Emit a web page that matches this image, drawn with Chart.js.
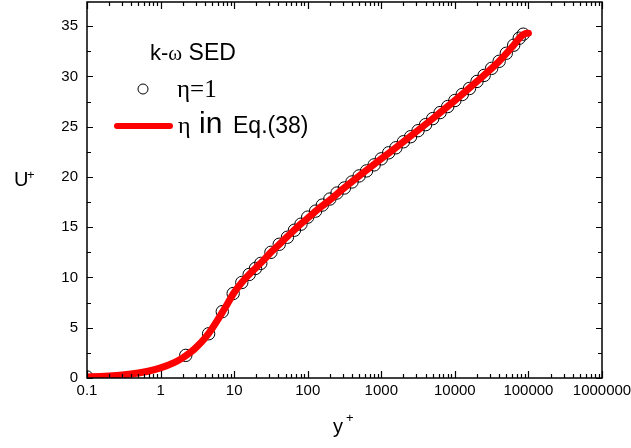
<!DOCTYPE html>
<html><head><meta charset="utf-8">
<script src="https://cdn.jsdelivr.net/npm/chart.js@4"></script>
<style>html,body{margin:0;padding:0;background:#fff}#wrap{width:631px;height:448px}</style>
</head><body><div id="wrap"><canvas id="c" width="631" height="448"></canvas></div>
<script>
// ---- data ----
const xTickValues = [0.1, 1, 10, 100, 1000, 10000, 100000, 1000000];
const xTickLabels = ['0.1', '1', '10', '100', '1000', '10000', '100000', '1000000'];
const yTickValues = [0, 5, 10, 15, 20, 25, 30, 35];
const yMinorTicks = [2.5, 7.5, 12.5, 17.5, 22.5, 27.5, 32.5];
const xMinorMultipliers = [2, 3, 4, 5, 6, 7, 8, 9];

// eta = 1 (open circles)
const etaOneX = [0.1, 2.2, 4.5, 6.9, 9.7, 12.7, 16, 19.5, 23, 31.6, 41, 53, 66, 81, 100, 128, 158, 200, 250, 315, 400, 500, 630, 800, 1000, 1260, 1580, 2000, 2500, 3160, 4000, 5000, 6300, 8000, 10000, 12600, 15800, 20000, 25000, 31600, 40000, 50000, 63000, 75000, 85000];
const etaOneU = [0.1, 2.25, 4.4, 6.6, 8.4, 9.5, 10.3, 10.9, 11.4, 12.5, 13.3, 14.0, 14.7, 15.3, 16.0, 16.6, 17.2, 17.8, 18.4, 18.9, 19.5, 20.1, 20.6, 21.2, 21.8, 22.4, 22.9, 23.5, 24.0, 24.6, 25.2, 25.8, 26.4, 27.0, 27.6, 28.2, 28.8, 29.5, 30.1, 30.8, 31.5, 32.3, 33.1, 33.8, 34.2];

// eta in Eq.(38) (red line)
const eqX = [0.1, 0.15, 0.2, 0.3, 0.5, 0.7, 1, 1.5, 2, 2.5, 3, 4, 5, 6, 7, 8, 10, 12.7, 16, 20, 25, 31.6, 40, 50, 63, 80, 100, 150, 200, 300, 500, 1000, 2000, 5000, 10000, 20000, 40000, 63000, 80000, 90000, 100000];
const eqU = [0.1, 0.15, 0.2, 0.3, 0.5, 0.7, 1.0, 1.5, 2.0, 2.5, 3.0, 3.95, 4.9, 5.8, 6.6, 7.3, 8.5, 9.5, 10.3, 11.0, 11.7, 12.5, 13.2, 13.9, 14.6, 15.3, 15.9, 17.0, 17.7, 18.8, 20.1, 21.8, 23.5, 25.8, 27.6, 29.5, 31.5, 33.1, 34.0, 34.25, 34.3];

const SANS = '"Liberation Sans", Arial, sans-serif';
const SERIF = '"Liberation Serif", "Times New Roman", serif';

const framePlugin = {
  id: 'frame',
  afterDatasetsDraw(chart) {
    const ctx = chart.ctx, a = chart.chartArea;
    const xs = chart.scales.x, ys = chart.scales.y;
    ctx.save();
    ctx.strokeStyle = '#000';
    ctx.lineWidth = 1.5;
    ctx.strokeRect(a.left, a.top, a.right - a.left, a.bottom - a.top);
    ctx.lineWidth = 1.2;
    ctx.beginPath();
    yTickValues.forEach(v => {
      const p = Math.round(ys.getPixelForValue(v)) + 0.5;
      ctx.moveTo(a.left, p); ctx.lineTo(a.left + 6, p);
      ctx.moveTo(a.right, p); ctx.lineTo(a.right - 6, p);
    });
    yMinorTicks.forEach(v => {
      const p = Math.round(ys.getPixelForValue(v)) + 0.5;
      ctx.moveTo(a.left, p); ctx.lineTo(a.left + 4, p);
      ctx.moveTo(a.right, p); ctx.lineTo(a.right - 4, p);
    });
    xTickValues.forEach((v, i) => {
      const p = Math.round(xs.getPixelForValue(v)) + 0.5;
      ctx.moveTo(p, a.bottom); ctx.lineTo(p, a.bottom - 7);
      ctx.moveTo(p, a.top); ctx.lineTo(p, a.top + 7);
      if (i < xTickValues.length - 1) {
        xMinorMultipliers.forEach(m => {
          const q = Math.round(xs.getPixelForValue(v * m)) + 0.5;
          ctx.moveTo(q, a.bottom); ctx.lineTo(q, a.bottom - 4);
          ctx.moveTo(q, a.top); ctx.lineTo(q, a.top + 4);
        });
      }
    });
    ctx.stroke();
    ctx.restore();
  },
  afterDraw(chart) {
    const ctx = chart.ctx;
    ctx.save();
    ctx.fillStyle = '#000';
    ctx.textBaseline = 'alphabetic';
    ctx.textAlign = 'left';
    ctx.font = '20px ' + SANS;
    ctx.fillText('U', 14, 186);
    ctx.font = '13px ' + SANS;
    ctx.fillText('+', 27, 179);
    ctx.font = '20px ' + SANS;
    ctx.fillText('y', 333, 433);
    ctx.font = '13px ' + SANS;
    ctx.fillText('+', 346, 422);
    let x = 150;
    ctx.font = '22px ' + SANS;
    ctx.fillText('k-', x, 60); x += ctx.measureText('k-').width;
    ctx.font = '21px ' + SERIF;
    ctx.fillText('ω', x, 60); x += ctx.measureText('ω').width;
    ctx.font = '23px ' + SANS;
    ctx.fillText(' SED', x, 60);
    ctx.strokeStyle = '#000';
    ctx.lineWidth = 1;
    ctx.beginPath(); ctx.arc(143, 89, 5, 0, Math.PI * 2); ctx.stroke();
    ctx.font = '25px ' + SERIF;
    ctx.fillText('η=1', 177, 97);
    ctx.strokeStyle = '#ff0000';
    ctx.lineWidth = 6;
    ctx.lineCap = 'round';
    ctx.beginPath(); ctx.moveTo(117, 126); ctx.lineTo(170, 126); ctx.stroke();
    ctx.font = '24px ' + SERIF;
    ctx.fillText('η', 178, 133);
    ctx.font = '30px ' + SANS;
    ctx.fillText('in', 199, 133);
    ctx.font = '23px ' + SANS;
    ctx.fillText('Eq.(38)', 233, 133);
    ctx.restore();
  }
};

new Chart(document.getElementById('c'), {
  type: 'line',
  data: {
    datasets: [
      {
        label: 'η in Eq.(38)',
        data: eqX.map((v, i) => ({ x: v, y: eqU[i] })),
        borderColor: '#ff0000',
        backgroundColor: '#ff0000',
        borderWidth: 7,
        pointRadius: 0,
        cubicInterpolationMode: 'monotone',
        borderCapStyle: 'round',
        borderJoinStyle: 'round',
        order: 0
      },
      {
        label: 'η=1',
        data: etaOneX.map((v, i) => ({ x: v, y: etaOneU[i] })),
        showLine: false,
        pointRadius: 6.2,
        pointStyle: 'circle',
        pointBorderColor: '#000',
        pointBackgroundColor: 'rgba(0,0,0,0)',
        pointBorderWidth: 1,
        order: 1
      }
    ]
  },
  options: {
    responsive: false,
    animation: false,
    devicePixelRatio: 1,
    layout: { autoPadding: false, padding: { left: 0, top: 2, right: 29, bottom: 0 } },
    plugins: { legend: { display: false }, tooltip: { enabled: false }, title: { display: false } },
    scales: {
      x: {
        type: 'logarithmic',
        min: 0.1,
        max: 1000000,
        afterBuildTicks: s => { s.ticks = xTickValues.map(v => ({ value: v })); },
        afterFit: s => { s.height = 70; s.paddingLeft = 0; s.paddingRight = 0; },
        ticks: {
          callback: (v, i) => xTickLabels[i],
          font: { family: SANS, size: 15 },
          color: '#000',
          padding: 4,
          maxRotation: 0,
          autoSkip: false
        },
        grid: { display: false, drawTicks: false },
        border: { display: false }
      },
      y: {
        type: 'linear',
        min: 0,
        max: 37.4,
        afterBuildTicks: s => { s.ticks = yTickValues.map(v => ({ value: v })); },
        afterFit: s => { s.width = 87; s.paddingTop = 0; s.paddingBottom = 0; },
        ticks: {
          font: { family: SANS, size: 15 },
          color: '#000',
          padding: 9
        },
        grid: { display: false, drawTicks: false },
        border: { display: false }
      }
    }
  },
  plugins: [framePlugin]
});
</script>
</body></html>
